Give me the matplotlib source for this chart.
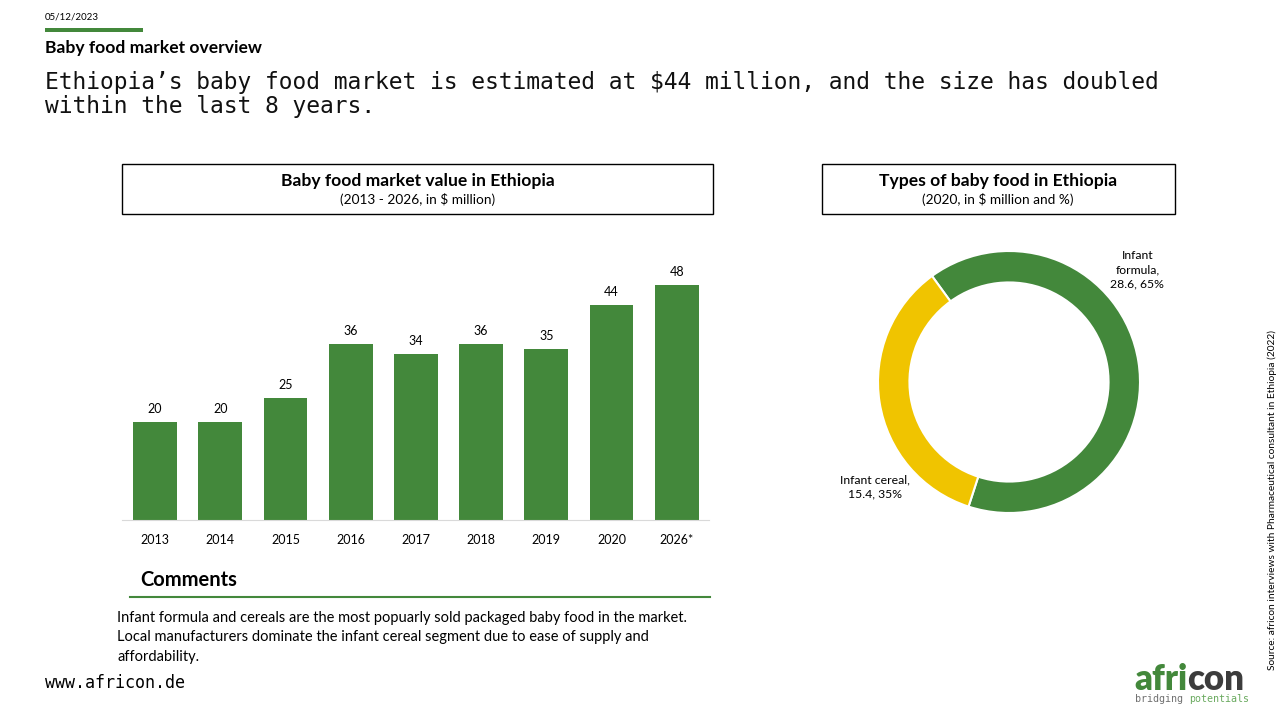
import matplotlib
matplotlib.use('Agg')
import matplotlib.pyplot as plt
from matplotlib.patches import Rectangle
from matplotlib.lines import Line2D

# data
years = ["2013", "2014", "2015", "2016", "2017", "2018", "2019", "2020", "2026*"]
market_value = [20, 20, 25, 36, 34, 36, 35, 44, 48]
food_types = ["Infant formula", "Infant cereal"]
food_values = [28.6, 15.4]
food_shares = [65, 35]

GREEN = "#43883B"
YELLOW = "#F0C400"
W, H = 1286, 719

plt.rcParams['font.family'] = ['Lato', 'DejaVu Sans']

fig = plt.figure(figsize=(W / 100, H / 100), dpi=100)


def fx(px):
    return px / W


def fy(py):
    return 1 - py / H


def box(x0, y0, x1, y1):
    fig.patches.append(Rectangle((fx(x0), fy(y1)), fx(x1) - fx(x0), fy(y0) - fy(y1),
                                 transform=fig.transFigure, fill=False,
                                 edgecolor="black", linewidth=1))


# header
fig.text(fx(45), fy(17), "05/12/2023", fontsize=7, va="center")
fig.patches.append(Rectangle((fx(45), fy(32)), fx(98), 4 / H, transform=fig.transFigure,
                             color=GREEN, linewidth=0))
fig.text(fx(45), fy(48), "Baby food market overview", fontsize=12.6, fontweight="bold", va="center")
fig.text(fx(45), fy(82), "Ethiopia’s baby food market is estimated at $44 million, and the size has doubled",
         fontsize=16.5, family="DejaVu Sans Mono", va="center", color="#111111")
fig.text(fx(45), fy(107), "within the last 8 years.",
         fontsize=16.5, family="DejaVu Sans Mono", va="center", color="#111111")

# bar chart
box(122, 164, 713, 214)
fig.text(fx(418), fy(181), "Baby food market value in Ethiopia", fontsize=12.6, fontweight="bold",
         ha="center", va="center")
fig.text(fx(418), fy(200), "(2013 - 2026, in $ million)", fontsize=9.8, ha="center", va="center")

base_y, ymax, unit = 520, 55, 4.896
ax = fig.add_axes([fx(122.4), fy(base_y), 587 / W, ymax * unit / H])
xs = range(len(years))
ax.bar(xs, market_value, width=0.67, color=GREEN)
for x, v in zip(xs, market_value):
    ax.annotate(str(v), (x, v), xytext=(0, 5), textcoords="offset points",
                ha="center", va="bottom", fontsize=9)
ax.set_xlim(-0.5, len(years) - 0.5)
ax.set_ylim(0, ymax)
ax.set_xticks(list(xs))
ax.set_xticklabels(years, fontsize=9)
ax.tick_params(axis="x", length=0, pad=10)
ax.set_yticks([])
for s in ["top", "right", "left"]:
    ax.spines[s].set_visible(False)
ax.spines["bottom"].set_color("#D9D9D9")

# donut chart
box(822, 164, 1175, 214)
fig.text(fx(998), fy(181), "Types of baby food in Ethiopia", fontsize=12.6, fontweight="bold",
         ha="center", va="center")
fig.text(fx(998), fy(200), "(2020, in $ million and %)", fontsize=9.8, ha="center", va="center")

cx, cy, r = 1009, 382, 131
ax2 = fig.add_axes([fx(cx - r), fy(cy + r), 2 * r / W, 2 * r / H])
ax2.pie(food_values, colors=[GREEN, YELLOW], startangle=126, counterclock=False,
        wedgeprops=dict(width=0.24, edgecolor="white", linewidth=1.5))
ax2.set_xlim(-1, 1)
ax2.set_ylim(-1, 1)
ax2.text(0.98, 0.855, "Infant\nformula,\n%s, %d%%" % (food_values[0], food_shares[0]),
         ha="center", va="center", fontsize=8.8, linespacing=1.35)
ax2.text(-1.02, -0.80, "Infant cereal,\n%s, %d%%" % (food_values[1], food_shares[1]),
         ha="center", va="center", fontsize=8.8, linespacing=1.35)

# comments
fig.text(fx(140), fy(580), "Comments", fontsize=14.5, fontweight="bold", va="center")
fig.lines.append(Line2D([fx(130), fx(710)], [fy(597), fy(597)], transform=fig.transFigure,
                        color=GREEN, linewidth=1.5))
comment_lines = [
    "Infant formula and cereals are the most popuarly sold packaged baby food in the market.",
    "Local manufacturers dominate the infant cereal segment due to ease of supply and",
    "affordability.",
]
for i, line in enumerate(comment_lines):
    fig.text(fx(117), fy(618 + 19.5 * i), line, fontsize=10.5, va="center")

# footer
fig.text(fx(45), fy(683), "www.africon.de", fontsize=12, family="DejaVu Sans Mono", va="center")
fig.text(fx(1272), fy(500), "Source: africon interviews with Pharmaceutical consultant in Ethiopia (2022)",
         fontsize=7.3, rotation=90, ha="center", va="center")

# logo
t = fig.text(fx(1134), fy(680), "afri", fontsize=25, fontweight="heavy", color=GREEN, va="center")
fig.canvas.draw()
bb = t.get_window_extent()
fig.text(bb.x1 / W, fy(680), "con", fontsize=25, fontweight="heavy", color="#3C3C3C", va="center")
t2 = fig.text(fx(1135), fy(699), "bridging ", fontsize=7.2, family="DejaVu Sans Mono",
              color="#707070", va="center")
fig.canvas.draw()
bb2 = t2.get_window_extent()
fig.text(bb2.x1 / W, fy(699), "potentials", fontsize=7.2, family="DejaVu Sans Mono",
         color="#6AAA5F", va="center")

fig.savefig("out.png", dpi=100)
